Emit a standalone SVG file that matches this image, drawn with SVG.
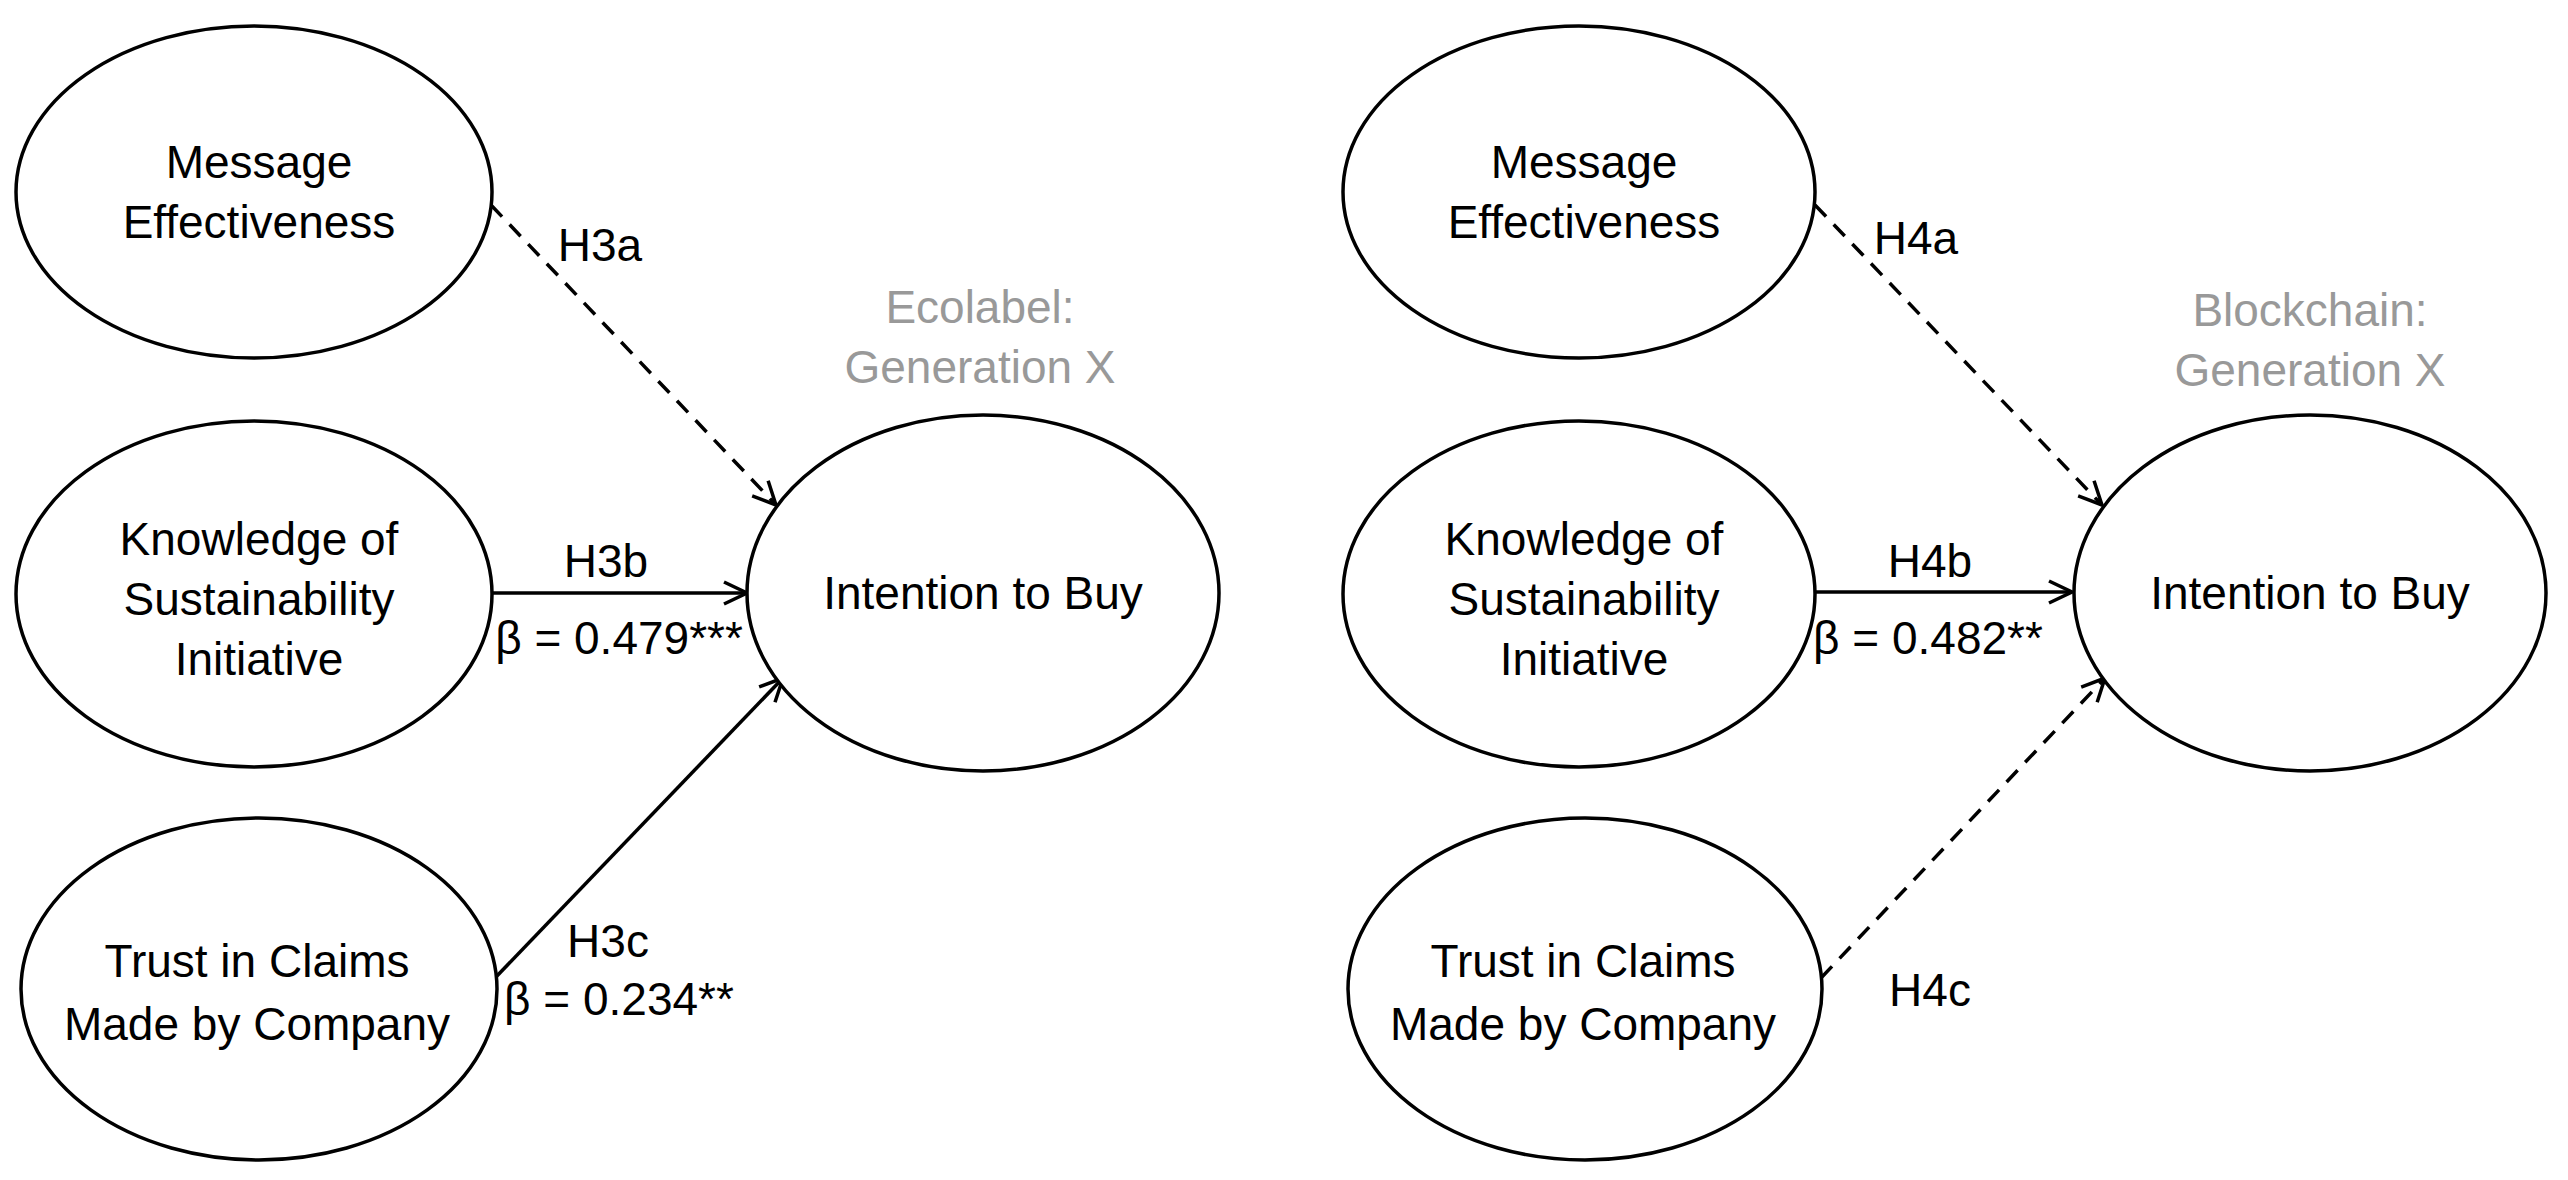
<svg xmlns="http://www.w3.org/2000/svg" width="2568" height="1180" viewBox="0 0 2568 1180">
<defs>
<style>
.n{fill:#fff;stroke:#000;stroke-width:3.5}
text{font-family:"Liberation Sans",Arial,sans-serif;font-size:46px;text-anchor:middle;fill:#000}
.g{fill:#999}
.c{stroke:#000;stroke-width:3.5;fill:none}
.d{stroke-dasharray:16 11}
</style>
<marker id="a" viewBox="0 0 28 28" refX="26" refY="14" markerWidth="28" markerHeight="28" markerUnits="userSpaceOnUse" orient="auto">
<path d="M3,3 L26,14 L3,25" fill="none" stroke="#000" stroke-width="3.5"/>
</marker>
</defs>
<rect width="2568" height="1180" fill="#fff"/>
<g id="connectors">
<line class="c d" x1="491" y1="205" x2="776" y2="505" marker-end="url(#a)"/>
<line class="c" x1="491" y1="593" x2="747" y2="593" marker-end="url(#a)"/>
<line class="c" x1="495" y1="978" x2="783" y2="678" marker-end="url(#a)"/>
<line class="c d" x1="1815" y1="205" x2="2102" y2="505" marker-end="url(#a)"/>
<line class="c" x1="1815" y1="592" x2="2072" y2="592" marker-end="url(#a)"/>
<line class="c d" x1="1821" y1="978" x2="2105" y2="678" marker-end="url(#a)"/>
<text x="600" y="261">H3a</text>
<text x="606" y="577">H3b</text>
<text x="619" y="654">β = 0.479***</text>
<text x="608" y="957">H3c</text>
<text x="619" y="1015">β = 0.234**</text>
<text x="1916" y="254">H4a</text>
<text x="1930" y="577">H4b</text>
<text x="1928" y="654">β = 0.482**</text>
<text x="1930" y="1006">H4c</text>
</g>
<g id="lbl-left"><text class="g" x="980" y="323">Ecolabel:</text><text class="g" x="980" y="383">Generation X</text></g>
<g id="lbl-right"><text class="g" x="2310" y="326">Blockchain:</text><text class="g" x="2310" y="386">Generation X</text></g>
<g id="me-l"><ellipse class="n" cx="254" cy="192" rx="238" ry="166"/><text x="259" y="178">Message</text><text x="259" y="238">Effectiveness</text></g>
<g id="ks-l"><ellipse class="n" cx="254" cy="594" rx="238" ry="173"/><text x="259" y="555">Knowledge of</text><text x="259" y="615">Sustainability</text><text x="259" y="675">Initiative</text></g>
<g id="tc-l"><ellipse class="n" cx="259" cy="989" rx="238" ry="171"/><text x="257" y="977">Trust in Claims</text><text x="257" y="1040">Made by Company</text></g>
<g id="ib-l"><ellipse class="n" cx="983" cy="593" rx="236" ry="178"/><text x="983" y="609">Intention to Buy</text></g>
<g id="me-r"><ellipse class="n" cx="1579" cy="192" rx="236" ry="166"/><text x="1584" y="178">Message</text><text x="1584" y="238">Effectiveness</text></g>
<g id="ks-r"><ellipse class="n" cx="1579" cy="594" rx="236" ry="173"/><text x="1584" y="555">Knowledge of</text><text x="1584" y="615">Sustainability</text><text x="1584" y="675">Initiative</text></g>
<g id="tc-r"><ellipse class="n" cx="1585" cy="989" rx="237" ry="171"/><text x="1583" y="977">Trust in Claims</text><text x="1583" y="1040">Made by Company</text></g>
<g id="ib-r"><ellipse class="n" cx="2310" cy="593" rx="236" ry="178"/><text x="2310" y="609">Intention to Buy</text></g>
</svg>
